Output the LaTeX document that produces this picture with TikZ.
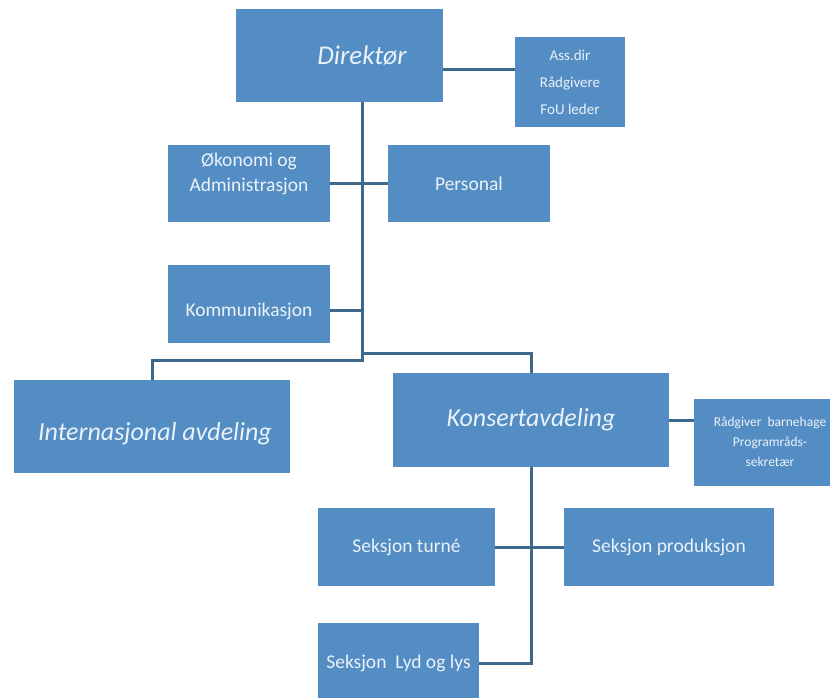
\documentclass[tikz,border=0pt]{standalone}
\usepackage{fontspec}
\setmainfont{Carlito}
\definecolor{boxblue}{HTML}{548DC4}
\definecolor{linecol}{HTML}{3E688C}
\definecolor{txt}{HTML}{EAF2F9}
\begin{document}
\begin{tikzpicture}[x=1pt,y=-1pt,
  box/.style={fill=boxblue, text=txt, inner sep=0pt, align=center},
  big/.style={font=\fontsize{26}{31}\selectfont\itshape},
  mid/.style={font=\fontsize{19.5}{25}\selectfont},
  conn/.style={draw=linecol, line width=3pt}]
\useasboundingbox (0,0) rectangle (833,698);
\node[box, minimum width=207pt, minimum height=93pt, font=\fontsize{27}{32}\selectfont\itshape] (dir) at (339.5,55.5) {\hspace*{45pt}Direktør};
\node[box, minimum width=110pt, minimum height=90pt, font=\fontsize{15}{27}\selectfont] (ass) at (570,82) {Ass.dir\\Rådgivere\\FoU leder};
\node[box, mid, minimum width=162pt, minimum height=77pt, text depth=22pt] (oko) at (249,183.5) {Økonomi og\\Administrasjon};
\node[box, mid, minimum width=162pt, minimum height=77pt] (pers) at (469,183.5) {Personal};
\node[box, mid, minimum width=162pt, minimum height=78pt, text height=28pt] (komm) at (249,304) {Kommunikasjon};
\node[box, big, minimum width=276pt, minimum height=93pt, text height=32pt] (intl) at (152,426.5) {\hspace*{6pt}Internasjonal avdeling};
\node[box, minimum width=136pt, minimum height=87pt, font=\fontsize{13.5}{20}\selectfont] (radg) at (762,442) {\hspace*{16pt}Rådgiver\ \ barnehage\\\hspace*{16pt}Programråds-\\\hspace*{16pt}sekretær};
\node[box, big, minimum width=276pt, minimum height=94pt] (kons) at (531,420) {Konsertavdeling};
\node[box, mid, minimum width=177pt, minimum height=78pt] (turne) at (406.5,547) {Seksjon turné};
\node[box, mid, minimum width=210pt, minimum height=78pt] (prod) at (669,547) {Seksjon produksjon};
\node[box, mid, minimum width=161pt, minimum height=80pt] (lyd) at (398.5,663) {Seksjon\ \ Lyd og lys};
\coordinate (spA) at (362,353);
\coordinate (spB) at (362,360);
\draw[conn] (dir.south -| spB) -- (spB) -- (spB -| intl.north) -- (intl.north);
\draw[conn] (spA) -- (spA -| kons.north) -- (kons.north);
\draw[conn] (oko.east) -- (pers.west);
\draw[conn] ([yshift=-6pt]komm.east) -- ([yshift=-6pt]komm.east -| spB);
\draw[conn] ([yshift=12pt]ass.west) -- ([yshift=12pt]ass.west -| dir.east);
\draw[conn] (kons.east) -- (kons.east -| radg.west);
\draw[conn] (kons.south) -- (kons.south |- lyd.east) -- (lyd.east);
\draw[conn] (turne.east) -- (prod.west);
\end{tikzpicture}
\end{document}
